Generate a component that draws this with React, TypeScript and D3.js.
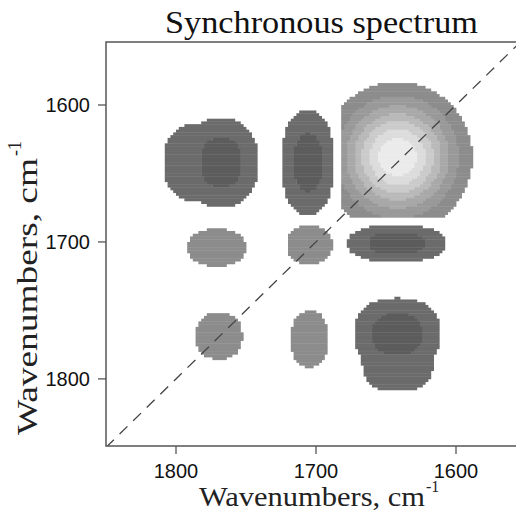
import React from "react";
import * as d3 from "d3";

// ---- axis data ----
const xTicks = [1800, 1700, 1600];
const yTicks = [1600, 1700, 1800];
const xExtent = [1850, 1550]; // wavenumbers, left -> right
const yExtent = [1554, 1849]; // wavenumbers, top -> bottom
const titleText = "Synchronous spectrum";
const axisLabel = "Wavenumbers, cm";
const axisLabelSup = "-1";

// ---- correlation peaks ----
// centre (cm-1), half widths at the contour level given, peak height (signed)
const peakCenterX = [1642, 1777, 1768, 1707, 1706, 1771, 1704.6, 1642.5, 1642.5, 1769.3, 1704.6, 1641.8, 1641.6, 1642.1];
const peakCenterY = [1638, 1642, 1642, 1642, 1642, 1704, 1702, 1701, 1701, 1768.6, 1770.8, 1764.2, 1782.5, 1767.2];
const peakHalfX = [53.6, 32, 15, 15, 10.4, 20.7, 16.1, 29.6, 20.4, 16.4, 13.2, 28.2, 25.7, 17.9];
const peakHalfY = [54.7, 29, 18, 29.6, 21.5, 13.5, 13.9, 11.3, 7.8, 16.8, 20.4, 19.7, 26.3, 15.3];
const peakEdgeLevel = [1, 1, 2, 1, 2, 1, 1, 1, 2, 1, 1, 1, 1, 2];
const peakHeight = [8, -1.5, -2.6, -1.5, -2.6, 1.5, 1.5, -1.5, -2.6, 1.5, 1.5, -1.5, -1.5, -2.6];
const peakShape = [2, 2.6, 2.2, 2.5, 2.2, 2.4, 2.4, 2.5, 2.4, 2.4, 2.4, 3, 2.8, 2.4];
const autopeakLimit = 1681.5; // main autopeak recorded only below this wavenumber

const gridStep = 2;
const posColors = ["#8c8c8c", "#999999", "#a8a8a8", "#b9b9b9", "#cbcbcb", "#dcdcdc", "#ebebeb"];
const negColors = ["#6b6b6b", "#5c5c5c"];

function fieldAt(x: number, y: number) {
  let pos = 0;
  let neg = 0;
  for (let i = 0; i < peakCenterX.length; i++) {
    if (i === 0 && (x > autopeakLimit || y > autopeakLimit)) continue;
    const dx = Math.abs(x - peakCenterX[i]) / peakHalfX[i];
    const dy = Math.abs(y - peakCenterY[i]) / peakHalfY[i];
    const p = peakShape[i];
    const d = Math.pow(dx, p) + Math.pow(dy, p);
    const A = Math.abs(peakHeight[i]);
    const v = A * Math.exp(-Math.log(A / peakEdgeLevel[i]) * d);
    if (peakHeight[i] > 0) pos = Math.max(pos, v);
    else neg = Math.max(neg, v);
  }
  if (pos >= 1) return Math.min(Math.floor(pos), posColors.length);
  if (neg >= 1) return -Math.min(Math.floor(neg), negColors.length);
  return 0;
}

export default function App() {
  const W = 516;
  const H = 511;
  const x = d3.scaleLinear().domain(xExtent).range([106, 526]);
  const y = d3.scaleLinear().domain(yExtent).range([42, 446]);

  const rects: React.ReactElement[] = [];
  const lo = 1550;
  const hi = 1850;
  let key = 0;
  for (let yv = lo; yv < hi; yv += gridStep) {
    let runStart = -1;
    let runLevel = 0;
    const cy = yv + gridStep / 2;
    const flush = (endX: number) => {
      if (runLevel !== 0) {
        const x0 = Math.min(x(runStart), x(endX));
        const x1 = Math.max(x(runStart), x(endX));
        const y0 = y(yv);
        const y1 = y(yv + gridStep);
        const fill = runLevel > 0 ? posColors[runLevel - 1] : negColors[-runLevel - 1];
        rects.push(
          <rect key={key++} x={x0} y={y0} width={x1 - x0 + 0.4} height={y1 - y0 + 0.4} fill={fill} />
        );
      }
    };
    for (let xv = lo; xv < hi; xv += gridStep) {
      const lvl = fieldAt(xv + gridStep / 2, cy);
      if (lvl !== runLevel) {
        flush(xv);
        runStart = xv;
        runLevel = lvl;
      }
    }
    flush(hi);
  }

  const left = x(xExtent[0]);
  const right = x(xExtent[1]);
  const top = y(yExtent[0]);
  const bottom = y(yExtent[1]);
  const serif = "Liberation Serif, Times New Roman, serif";
  const sans = "Liberation Sans, Arial, sans-serif";

  return (
    <svg width={W} height={H} style={{ position: "absolute", left: 0, top: 0, background: "#fff" }}>
      <defs>
        <clipPath id="plot">
          <rect x={left} y={top} width={right - left} height={bottom - top} />
        </clipPath>
      </defs>
      <g clipPath="url(#plot)">
        {rects}
        <line
          x1={x(1850)}
          y1={y(1850)}
          x2={x(1550)}
          y2={y(1550)}
          stroke="#444"
          strokeWidth={1.3}
          strokeDasharray="11,8"
        />
      </g>
      <rect x={left} y={top} width={right - left} height={bottom - top} fill="none" stroke="#555" strokeWidth={1.5} />
      {xTicks.map((t) => (
        <g key={"xt" + t}>
          <line x1={x(t)} x2={x(t)} y1={bottom} y2={bottom + 8} stroke="#555" strokeWidth={1.3} />
          <text x={x(t)} y={478} textAnchor="middle" fontFamily={sans} fontSize={20} fill="#111">
            {t}
          </text>
        </g>
      ))}
      {yTicks.map((t) => (
        <g key={"yt" + t}>
          <line x1={left - 8} x2={left} y1={y(t)} y2={y(t)} stroke="#555" strokeWidth={1.3} />
          <text x={90} y={y(t)} dy="0.36em" textAnchor="end" fontFamily={sans} fontSize={20} fill="#111">
            {t}
          </text>
        </g>
      ))}
      <text
        x={165}
        y={33}
        fontFamily={serif}
        fontSize={32}
        fill="#111"
        textLength={313}
        lengthAdjust="spacingAndGlyphs"
      >
        {titleText}
      </text>
      <text x={199} y={506} fontFamily={serif} fontSize={27} fill="#222" textLength={226} lengthAdjust="spacingAndGlyphs">
        {axisLabel}
      </text>
      <text x={426} y={492} fontFamily={serif} fontSize={16} fill="#222">
        {axisLabelSup}
      </text>
      <g transform="translate(37,435) rotate(-90)">
        <text x={0} y={0} fontFamily={serif} fontSize={30} fill="#222" textLength={277} lengthAdjust="spacingAndGlyphs">
          {axisLabel}
        </text>
        <text x={279} y={-16} fontFamily={serif} fontSize={18} fill="#222">
          {axisLabelSup}
        </text>
      </g>
    </svg>
  );
}
